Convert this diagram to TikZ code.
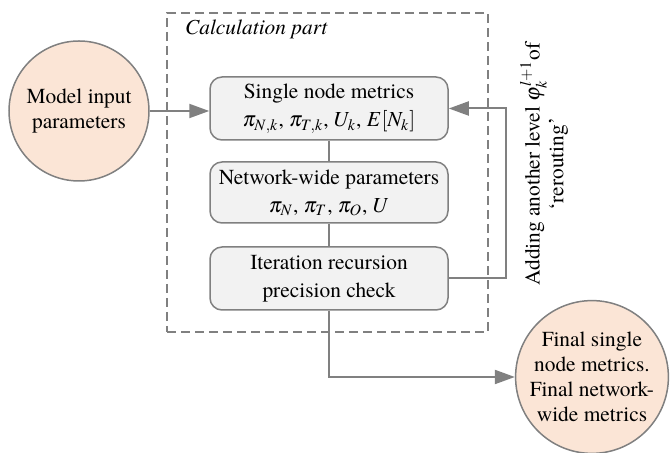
\documentclass[tikz,border=0pt]{standalone}
\usepackage{mathptmx}
\usepackage[no-math]{fontspec}
\setmainfont{TeX Gyre Termes}
\usetikzlibrary{arrows.meta}
\definecolor{boxfill}{HTML}{F2F2F2}
\definecolor{edgegray}{HTML}{808080}
\definecolor{peach}{HTML}{FBE5D6}
\begin{document}
\begin{tikzpicture}[x=0.5pt,y=-0.5pt,
 txt/.style={font=\rmfamily\fontsize{10.7pt}{14pt}\selectfont, align=center, text=black},
 calcbox/.style={txt, draw=edgegray, fill=boxfill, line width=0.75pt, rounded corners=6pt, minimum width=119pt, minimum height=31.5pt, inner sep=1pt},
 endcirc/.style={txt, circle, draw=edgegray, fill=peach, line width=0.75pt, inner sep=0pt, font=\rmfamily\fontsize{10.7pt}{12.5pt}\selectfont},
 dashbox/.style={draw=edgegray, line width=0.75pt, dash pattern=on 4.5pt off 2.5pt, minimum width=160.5pt, minimum height=159.5pt, inner sep=0pt},
 conn/.style={draw=edgegray, line width=1pt},
 arr/.style={conn, -{Triangle[length=10pt,width=7pt]}},
]
\useasboundingbox (0,0) rectangle (670,453);
\node[dashbox] (calc) at (327.5,172.5) {};
\node[txt, anchor=base west, font=\rmfamily\fontsize{10.7pt}{14pt}\selectfont\itshape] (cp) at (178,35) {Calculation part};

\node[calcbox] (b1) at (329,108.5) {Single node metrics\\$\pi_{N,k}$, $\pi_{T,k}$, $U_k$, $E[N_k]$};
\node[calcbox, minimum height=30.5pt] (b2) at (329,192.5) {Network-wide parameters\\$\pi_N$, $\pi_T$, $\pi_O$, $U$};
\node[calcbox] (b3) at (329,278.5) {Iteration recursion\\precision check};

\node[endcirc, minimum size=70pt] (min) at (79,111) {Model input\\parameters};
\node[endcirc, minimum size=71pt] (fin) at (592,377) {Final single\\node metrics.\\Final network-\\wide metrics};

\coordinate (fb) at (506,0);
\node[txt, rotate=90, font=\rmfamily\fontsize{10.7pt}{10pt}\selectfont] (lbl) at (544,164) {Adding another level $\varphi_k^{l+1}$of\\`rerouting'};

\draw[arr] (min.east) -- (min.east -| b1.west);
\draw[conn] (b1) -- (b2);
\draw[conn] (b2) -- (b3);
\draw[arr] (b3.east) -- (b3.east -| fb) -- (b1.east -| fb) -- (b1.east);
\draw[arr] (b3.south) |- (fin.west);
\end{tikzpicture}
\end{document}
